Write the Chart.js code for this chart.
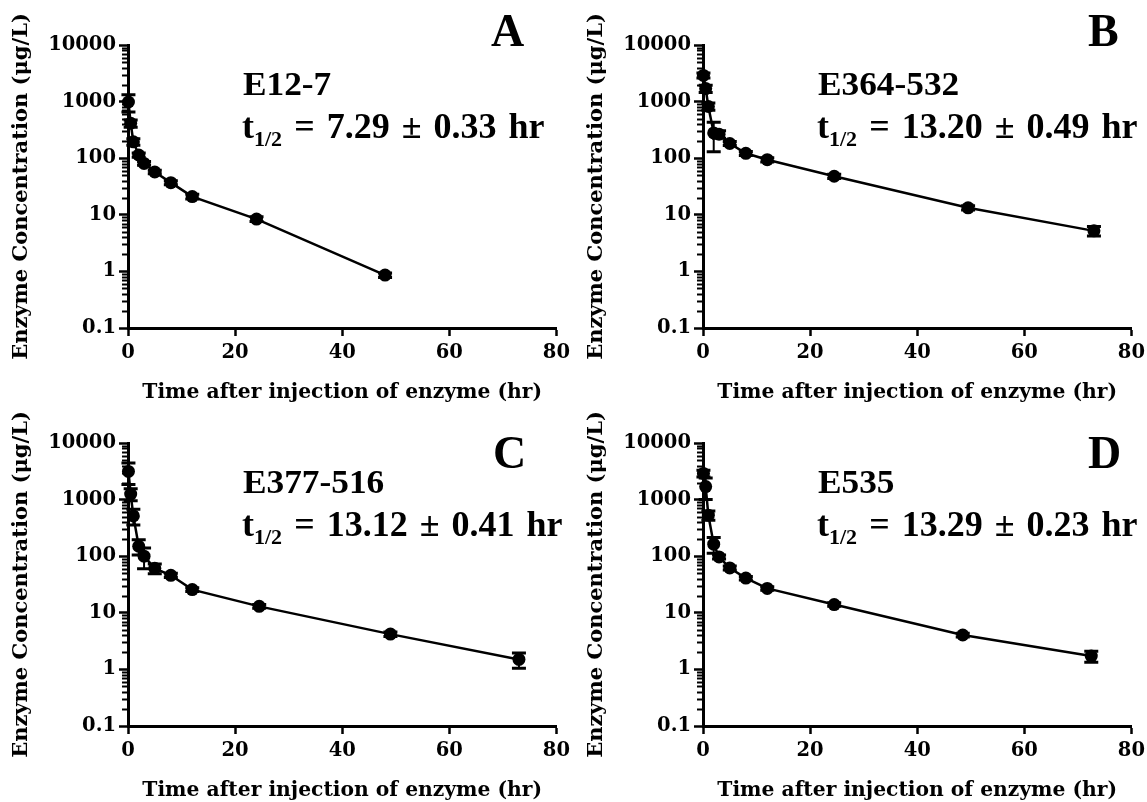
<!DOCTYPE html>
<html>
<head>
<meta charset="utf-8">
<script src="https://cdn.jsdelivr.net/npm/chart.js@4.4.0/dist/chart.umd.min.js"></script>
<style>
html,body{margin:0;padding:0;background:#fff;width:1147px;height:802px;overflow:hidden;}
.panel{position:absolute;width:575px;height:405px;}
.panel canvas{position:absolute;left:0;top:0;}
.lbl{position:absolute;font-family:"Liberation Serif","Times New Roman",serif;font-weight:bold;color:#000;white-space:nowrap;line-height:1;}
.name{font-size:33px;left:243px;top:68px;transform:scaleX(1.07);transform-origin:left center;}
.thalf{font-size:36px;left:242px;top:108px;word-spacing:3px;}
.thalf .sub{font-size:22px;position:relative;top:8px;}
.letter{font-size:46px;}
</style>
</head>
<body>
<div class="panel" id="p0" style="left:0;top:0"><canvas id="c0" width="575" height="405"></canvas></div>
<div class="panel" id="p1" style="left:575px;top:0"><canvas id="c1" width="575" height="405"></canvas></div>
<div class="panel" id="p2" style="left:0;top:398px"><canvas id="c2" width="575" height="405"></canvas></div>
<div class="panel" id="p3" style="left:575px;top:398px"><canvas id="c3" width="575" height="405"></canvas></div>
<script>
// axis ticks
const xTicks = [0, 20, 40, 60, 80];
const yTicks = [0.1, 1, 10, 100, 1000, 10000];
const yTickLabels = ['0.1', '1', '10', '100', '1000', '10000'];

// panel A - E12-7
const timeA = [0.083, 0.5, 1, 2, 3, 5, 8, 12, 24, 48];
const concA = [985, 414, 195, 114, 81, 57, 37, 21, 8.4, 0.86];
const semA  = [330, 60, 25, 10, 6, 4, 3, 2, 0.8, 0.08];

// panel B - E364-532
const timeB = [0.083, 0.5, 1, 2, 3, 5, 8, 12, 24.5, 49.5, 73];
const concB = [2900, 1700, 820, 280, 265, 182, 122, 94, 48, 13.3, 5.2];
const semB  = [300, 250, 120, 150, 40, 15, 10, 8, 4, 1.2, 1.0];

// panel C - E377-516
const timeC = [0.083, 0.5, 1, 2, 3, 5, 8, 12, 24.5, 49, 73];
const concC = [3150, 1250, 515, 150, 100, 61, 46, 25.7, 13, 4.2, 1.5];
const semC  = [1300, 300, 160, 45, 40, 12, 4, 2, 1, 0.4, 0.45];

// panel D - E535
const timeD = [0.083, 0.5, 1, 2, 3, 5, 8, 12, 24.5, 48.5, 72.5];
const concD = [2900, 1700, 530, 163, 97, 62, 41, 27, 14, 4.05, 1.72];
const semD  = [400, 700, 100, 50, 8, 5, 3, 2, 1, 0.3, 0.38];

const panelLetters = ['A', 'B', 'C', 'D'];
const enzymeNames = ['E12-7', 'E364-532', 'E377-516', 'E535'];
const halfLife = ['7.29', '13.20', '13.12', '13.29'];
const halfLifeErr = ['0.33', '0.49', '0.41', '0.23'];

const xTitle = 'Time after injection of enzyme (hr)';
const yTitle = 'Enzyme Concentration (\u03bcg/L)';

// letter placement inside each panel (layout only)
const letterPos = [[491, 8], [513, 8], [493, 32], [513, 32]];

const tickFont = {family: 'DejaVu Serif', weight: 'bold', size: 19.5};
const xTitleFont = {family: 'DejaVu Serif', weight: 'bold', size: 20.3};
const yTitleFont = {family: 'DejaVu Serif', weight: 'bold', size: 21};
const H = 405, AREA_BOTTOM = 328, AREA_LEFT = 128;

// short minor ticks between decades on the log axis
const minorTicks = {
  id: 'minorTicks',
  afterDraw(chart){
    const ys = chart.scales.y, ctx = chart.ctx, x0 = chart.chartArea.left;
    ctx.save();
    ctx.strokeStyle = '#000'; ctx.lineWidth = 2;
    yTicks.slice(0, -1).forEach(d => {
      for(let k = 2; k <= 9; k++){
        const py = Math.round(ys.getPixelForValue(d * k)) + 0.5;
        ctx.beginPath(); ctx.moveTo(x0 - 6, py); ctx.lineTo(x0, py); ctx.stroke();
      }
    });
    ctx.restore();
  }
};

// mean +/- SEM bars
const errorBars = {
  id: 'errorBars',
  beforeDatasetsDraw(chart){
    const xs = chart.scales.x, ys = chart.scales.y, ctx = chart.ctx;
    ctx.save();
    ctx.strokeStyle = '#000';
    chart.data.datasets.forEach(ds => {
      ds.data.forEach((p, i) => {
        const e = ds.sem[i];
        if(!e) return;
        const px = xs.getPixelForValue(p.x);
        const top = ys.getPixelForValue(p.y + e);
        const bot = ys.getPixelForValue(Math.max(p.y - e, 0.1));
        ctx.lineWidth = 2;
        ctx.beginPath(); ctx.moveTo(px, top); ctx.lineTo(px, bot); ctx.stroke();
        ctx.lineWidth = 3;
        ctx.beginPath();
        ctx.moveTo(px - 7, top); ctx.lineTo(px + 7, top);
        ctx.moveTo(px - 7, bot); ctx.lineTo(px + 7, bot);
        ctx.stroke();
      });
    });
    ctx.restore();
  }
};

function makeChart(id, time, conc, sem){
  return new Chart(document.getElementById(id), {
    type: 'line',
    data: {
      datasets: [{
        data: time.map((t, i) => ({x: t, y: conc[i]})),
        sem: sem,
        borderColor: '#000', borderWidth: 2.5, tension: 0,
        pointRadius: 6.5, pointBackgroundColor: '#000', pointBorderColor: '#000', pointBorderWidth: 0,
        clip: false
      }]
    },
    options: {
      responsive: false, animation: false, devicePixelRatio: 1,
      layout: {padding: {left: 6, top: 45, right: 18, bottom: 0}},
      plugins: {legend: {display: false}, tooltip: {enabled: false}},
      scales: {
        x: {
          type: 'linear', min: 0, max: 80,
          afterBuildTicks: s => { s.ticks = xTicks.map(v => ({value: v})); },
          afterFit: s => { s.height = H - AREA_BOTTOM; },
          border: {color: '#000', width: 3},
          grid: {drawOnChartArea: false, tickLength: 8, tickWidth: 2.5, tickColor: '#000'},
          ticks: {color: '#000', font: tickFont, padding: 5, maxRotation: 0, autoSkip: false},
          title: {display: true, text: xTitle, color: '#000', font: xTitleFont, padding: {top: 0, bottom: 0}}
        },
        y: {
          type: 'logarithmic', min: 0.1, max: 10000,
          afterBuildTicks: s => { s.ticks = yTicks.map(v => ({value: v, major: true})); },
          afterFit: s => { s.width = AREA_LEFT - 6; },
          border: {color: '#000', width: 3},
          grid: {drawOnChartArea: false, tickLength: 9, tickWidth: 2.5, tickColor: '#000'},
          ticks: {color: '#000', font: tickFont, padding: 3, autoSkip: false, callback: (v, i) => yTickLabels[i]},
          title: {display: true, text: yTitle, color: '#000', font: yTitleFont, padding: {top: 3, bottom: 0}}
        }
      }
    },
    plugins: [minorTicks, errorBars]
  });
}

const series = [[timeA, concA, semA], [timeB, concB, semB], [timeC, concC, semC], [timeD, concD, semD]];
series.forEach((s, i) => {
  makeChart('c' + i, s[0], s[1], s[2]);
  const panel = document.getElementById('p' + i);
  const name = document.createElement('div');
  name.className = 'lbl name'; name.textContent = enzymeNames[i];
  const th = document.createElement('div');
  th.className = 'lbl thalf';
  th.innerHTML = 't<span class="sub">1/2</span> = ' + halfLife[i] + ' \u00b1 ' + halfLifeErr[i] + ' hr';
  const let_ = document.createElement('div');
  let_.className = 'lbl letter'; let_.textContent = panelLetters[i];
  let_.style.left = letterPos[i][0] + 'px'; let_.style.top = letterPos[i][1] + 'px';
  panel.appendChild(name); panel.appendChild(th); panel.appendChild(let_);
});
</script>
</body>
</html>
